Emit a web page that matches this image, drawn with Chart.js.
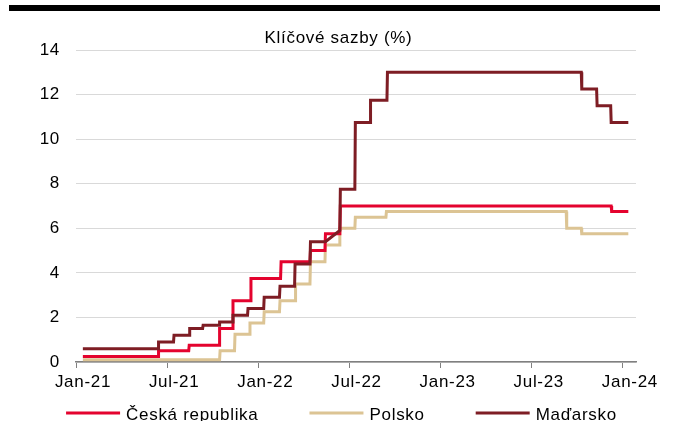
<!DOCTYPE html>
<html><head><meta charset="utf-8">
<script src="https://cdn.jsdelivr.net/npm/chart.js@4.4.1/dist/chart.umd.min.js"></script>
<style>
html,body{margin:0;padding:0;background:#fff;overflow:hidden;}
#wrap{position:relative;width:679px;height:421px;}
#bar{position:absolute;left:9px;top:5px;width:651px;height:6px;background:#000;}
canvas{position:absolute;left:0;top:0;}
</style></head><body>
<div id="wrap"><canvas id="c" width="679" height="421"></canvas><div id="bar"></div></div>
<script>
const chartTitle = 'Klíčové sazby (%)';
const seriesNames = ['Česká republika', 'Polsko', 'Maďarsko'];
const seriesColors = ['#E4032E', '#DCC494', '#7E1D24'];
const xTickLabels = ['Jan-21', 'Jul-21', 'Jan-22', 'Jul-22', 'Jan-23', 'Jul-23', 'Jan-24'];
const yTickValues = [0, 2, 4, 6, 8, 10, 12, 14];

const czDates = ['2021-01-15','2021-06-13','2021-06-14','2021-08-14','2021-08-15','2021-10-14','2021-10-15','2021-11-10','2021-11-11','2021-12-16','2021-12-17','2022-02-14','2022-02-15','2022-04-13','2022-04-14','2022-05-13','2022-05-14','2022-06-12','2022-06-13','2023-12-08','2023-12-09','2024-01-12'];
const czRates = [0.25,0.25,0.5,0.5,0.75,0.75,1.5,1.5,2.75,2.75,3.75,3.75,4.5,4.5,5.0,5.0,5.75,5.75,7.0,7.0,6.75,6.75];

const plDates = ['2021-01-15','2021-10-15','2021-10-16','2021-11-14','2021-11-15','2021-12-14','2021-12-15','2022-01-12','2022-01-13','2022-02-12','2022-02-13','2022-03-14','2022-03-15','2022-04-13','2022-04-14','2022-05-13','2022-05-14','2022-06-11','2022-06-12','2022-07-12','2022-07-13','2022-09-13','2022-09-14','2023-09-09','2023-09-10','2023-10-09','2023-10-10','2024-01-12'];
const plRates = [0.1,0.1,0.5,0.5,1.25,1.25,1.75,1.75,2.25,2.25,2.75,2.75,3.5,3.5,4.5,4.5,5.25,5.25,6.0,6.0,6.5,6.5,6.75,6.75,6.0,6.0,5.75,5.75];

const huDates = ['2021-01-15','2021-06-13','2021-06-14','2021-07-14','2021-07-15','2021-08-15','2021-08-16','2021-09-11','2021-09-12','2021-10-14','2021-10-15','2021-11-10','2021-11-11','2021-12-10','2021-12-11','2022-01-12','2022-01-13','2022-02-12','2022-02-13','2022-03-13','2022-03-14','2022-04-13','2022-04-14','2022-05-14','2022-06-12','2022-06-13','2022-07-12','2022-07-13','2022-08-12','2022-08-13','2022-09-15','2022-09-16','2023-10-09','2023-10-10','2023-11-09','2023-11-10','2023-12-07','2023-12-08','2024-01-12'];
const huRates = [0.6,0.6,0.9,0.9,1.2,1.2,1.5,1.5,1.65,1.65,1.8,1.8,2.1,2.1,2.4,2.4,2.9,2.9,3.4,3.4,4.4,4.4,5.4,5.4,5.9,7.75,7.75,10.75,10.75,11.75,11.75,13.0,13.0,12.25,12.25,11.5,11.5,10.75,10.75];

// months elapsed since 1 Jan 2021
function monthIndex(s) {
  const [y, m, d] = s.split('-').map(Number);
  const dim = new Date(y, m, 0).getDate();
  return (y - 2021) * 12 + (m - 1) + (d - 1) / dim;
}
function toPoints(dates, rates) {
  return dates.map((d, i) => ({ x: monthIndex(d), y: rates[i] }));
}

const FONT = '"Liberation Sans", Arial, sans-serif';
const LETTER = '0.7px';

const textSpacing = {
  id: 'textSpacing',
  beforeLayout(chart) { chart.ctx.letterSpacing = LETTER; },
  beforeDraw(chart) { chart.ctx.letterSpacing = LETTER; }
};

const bottomLegend = {
  id: 'bottomLegend',
  afterDraw(chart) {
    const ctx = chart.ctx;
    ctx.save();
    ctx.letterSpacing = LETTER;
    ctx.font = '17px ' + FONT;
    const lineLen = 54, gap = 6, spacing = 51;
    const widths = seriesNames.map(n => ctx.measureText(n).width);
    const total = widths.reduce((a, w) => a + lineLen + gap + w, 0) + spacing * (seriesNames.length - 1);
    let x = chart.width / 2 + 2 - total / 2;
    const yLine = 413, yText = 420;
    chart.data.datasets.forEach((ds, i) => {
      ctx.strokeStyle = ds.borderColor;
      ctx.lineWidth = 3;
      ctx.beginPath();
      ctx.moveTo(x, yLine);
      ctx.lineTo(x + lineLen, yLine);
      ctx.stroke();
      ctx.fillStyle = '#000';
      ctx.textBaseline = 'alphabetic';
      ctx.textAlign = 'left';
      ctx.fillText(ds.label, x + lineLen + gap, yText);
      x += lineLen + gap + widths[i] + spacing;
    });
    ctx.restore();
  }
};

new Chart(document.getElementById('c'), {
  type: 'line',
  data: {
    datasets: [
      { label: seriesNames[0], data: toPoints(czDates, czRates), borderColor: seriesColors[0], order: 1 },
      { label: seriesNames[1], data: toPoints(plDates, plRates), borderColor: seriesColors[1], order: 2 },
      { label: seriesNames[2], data: toPoints(huDates, huRates), borderColor: seriesColors[2], order: 0 }
    ]
  },
  options: {
    responsive: false,
    animation: false,
    devicePixelRatio: 1,
    elements: {
      line: { borderWidth: 3, tension: 0, fill: false, borderCapStyle: 'butt', borderJoinStyle: 'miter' },
      point: { radius: 0, hoverRadius: 0 }
    },
    layout: { padding: { top: 30, left: 41, right: 43, bottom: 29 } },
    plugins: {
      legend: { display: false },
      tooltip: { enabled: false },
      title: {
        display: true,
        text: chartTitle,
        color: '#000',
        font: { family: FONT, size: 17, weight: 'normal', lineHeight: 1 },
        padding: { top: 0, bottom: 3 }
      }
    },
    scales: {
      x: {
        type: 'linear',
        min: 0,
        max: 36.86,
        afterBuildTicks(scale) { scale.ticks = xTickLabels.map((_, i) => ({ value: i * 6 })); },
        afterFit(scale) { scale.height = 30; },
        ticks: {
          autoSkip: false, maxRotation: 0, padding: 4, labelOffset: 7,
          color: '#000', font: { family: FONT, size: 17 },
          callback: (v, i) => xTickLabels[i]
        },
        grid: { drawOnChartArea: false, drawTicks: true, tickLength: 6, color: '#808080', lineWidth: 1 },
        border: { display: true, color: '#808080', width: 1.5 }
      },
      y: {
        min: 0,
        max: 14,
        afterBuildTicks(scale) { scale.ticks = yTickValues.map(v => ({ value: v })); },
        afterFit(scale) { scale.width = 35; },
        ticks: { padding: 16, color: '#000', font: { family: FONT, size: 17 } },
        grid: { drawTicks: false, color: '#D9D9D9', lineWidth: 1 },
        border: { display: false }
      }
    }
  },
  plugins: [textSpacing, bottomLegend]
});
</script>
</body></html>
